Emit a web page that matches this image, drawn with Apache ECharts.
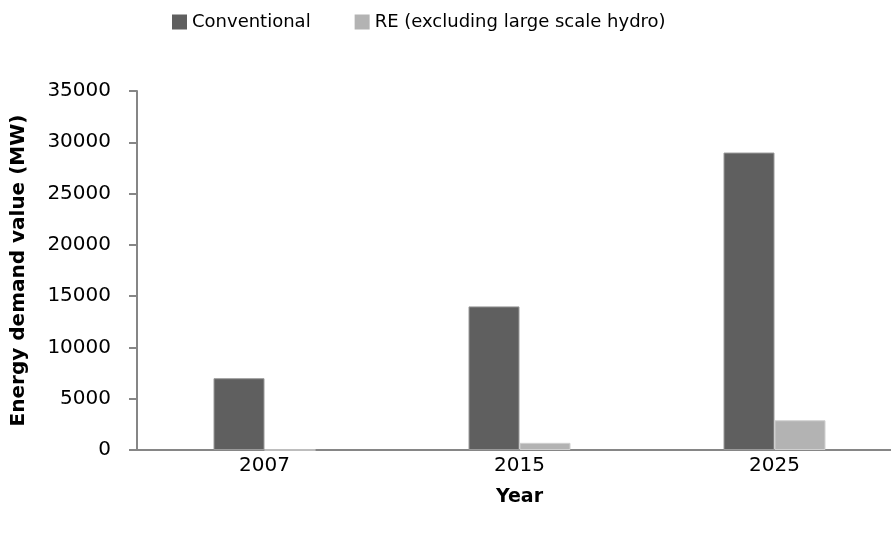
<!DOCTYPE html>
<html style="height: 100%">
<head>
    <meta charset="UTF-8">
    <title>Energy demand</title>
    <script src="https://cdn.jsdelivr.net/npm/echarts@6/dist/echarts.min.js"></script>
</head>
<body style="height: 100%; margin: 0; background: #fff">
    <div id="main" style="width: 891px; height: 539px;"></div>
    <script>
        // data
        var years = ['2007', '2015', '2025'];
        var conventional = [7000, 14000, 29000];
        var renewable = [0, 700, 2900];
        var seriesNames = ['Conventional', 'RE (excluding large scale hydro)'];

        var font = 'DejaVu Sans';
        var myChart = echarts.init(document.getElementById('main'));

        var option = {
            animation: false,
            legend: {
                data: seriesNames,
                left: 167,
                top: 8,
                itemWidth: 15,
                itemHeight: 15,
                itemGap: 44,
                icon: 'rect',
                itemStyle: { borderWidth: 0 },
                textStyle: { fontFamily: font, fontSize: 18, color: '#000' }
            },
            grid: {
                left: 137,
                top: 91,
                bottom: 89,
                width: 765,
                outerBoundsMode: 'none',
                containLabel: false
            },
            xAxis: {
                type: 'category',
                data: years,
                name: 'Year',
                nameLocation: 'middle',
                nameGap: 38,
                nameTextStyle: { fontFamily: font, fontSize: 19, fontWeight: 'bold', color: '#000' },
                axisLine: { lineStyle: { color: '#868686', width: 2 } },
                axisTick: { show: false },
                axisLabel: { fontFamily: font, fontSize: 20, color: '#000', margin: 6 }
            },
            yAxis: {
                type: 'value',
                min: 0,
                max: 35000,
                interval: 5000,
                name: 'Energy demand value (MW)',
                nameLocation: 'middle',
                nameGap: 108,
                nameTextStyle: { fontFamily: font, fontSize: 20, fontWeight: 'bold', color: '#000' },
                axisLine: { show: true, lineStyle: { color: '#868686', width: 2 } },
                axisTick: { show: true, length: 8, lineStyle: { color: '#868686', width: 2 } },
                axisLabel: {
                    fontFamily: font, fontSize: 20, color: '#000', margin: 26,
                    formatter: function (v) { return String(v); }
                },
                splitLine: { show: false }
            },
            series: [
                {
                    name: seriesNames[0],
                    type: 'bar',
                    data: conventional,
                    barWidth: 51,
                    barGap: '0%',
                    itemStyle: { color: '#5f5f5f', borderColor: '#9a9a9a', borderWidth: 1 }
                },
                {
                    name: seriesNames[1],
                    type: 'bar',
                    data: renewable,
                    barWidth: 51,
                    barGap: '0%',
                    itemStyle: { color: '#b3b3b3', borderColor: '#d0d0d0', borderWidth: 1 }
                }
            ]
        };

        myChart.setOption(option);
    </script>
</body>
</html>
